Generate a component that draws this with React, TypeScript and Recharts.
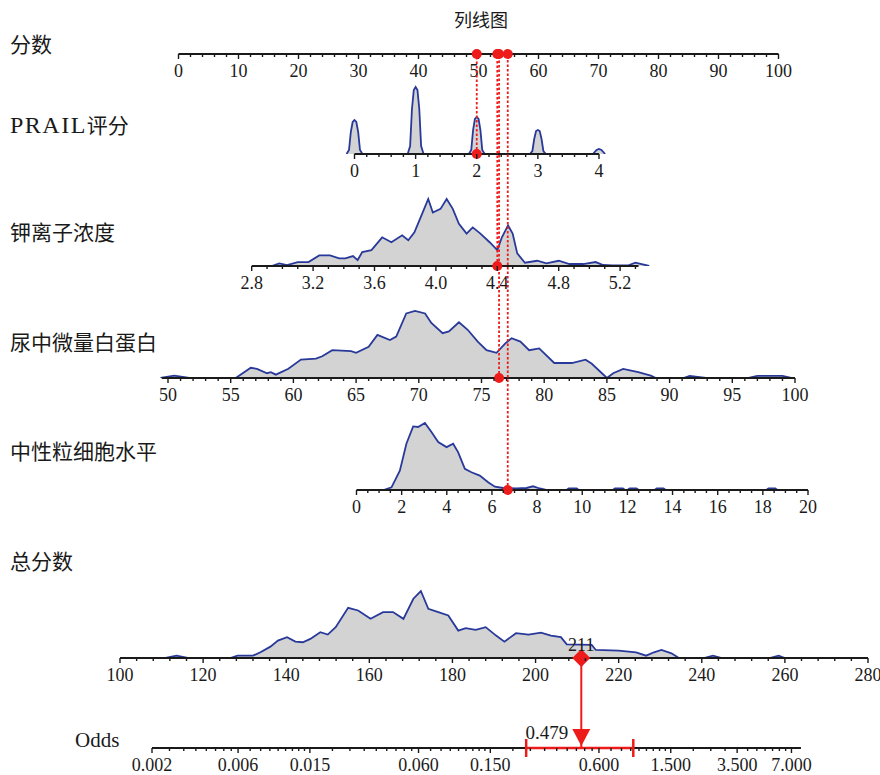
import React from 'react'
import { ComposedChart, Area, XAxis, YAxis, ReferenceLine, ReferenceDot } from 'recharts'

// 分数
const scoreMajors = [0, 10, 20, 30, 40, 50, 60, 70, 80, 90, 100]

// PRAIL评分
const prailMajors = [0, 1, 2, 3, 4]
const prailX = [
  -0.13, -0.09, -0.06, -0.03, 0, 0.03, 0.06, 0.09, 0.13,
  0.87, 0.91, 0.94, 0.97, 1, 1.03, 1.06, 1.09, 1.13,
  1.87, 1.91, 1.94, 1.97, 2, 2.03, 2.06, 2.09, 2.13,
  2.87, 2.91, 2.94, 2.97, 3, 3.03, 3.06, 3.09, 3.13,
  3.9, 3.96, 4.0, 4.04, 4.1,
]
const prailDensity = [
  0, 4, 22, 32, 34, 32, 22, 4, 0,
  0, 8, 45, 64, 67, 64, 45, 8, 0,
  0, 4, 24, 35, 37, 35, 24, 4, 0,
  0, 3, 15, 23, 24, 23, 15, 3, 0,
  0, 4, 5, 4, 0,
]
const prailObs = 2

// 钾离子浓度
const kMajors = [2.8, 3.2, 3.6, 4.0, 4.4, 4.8, 5.2]
const kX = [
  2.93, 2.98, 3.03, 3.1, 3.17, 3.24, 3.31, 3.37, 3.41, 3.46,
  3.49, 3.52, 3.58, 3.65, 3.71, 3.78, 3.82, 3.86, 3.91, 3.95,
  3.98, 4.03, 4.07, 4.11, 4.15, 4.2, 4.24, 4.29, 4.35, 4.4,
  4.43, 4.47, 4.5, 4.53, 4.58, 4.66, 4.72, 4.8, 4.87, 4.96,
  5.04, 5.09, 5.15, 5.25, 5.3, 5.39,
]
const kDensity = [
  0, 2.7, 1, 4, 4, 10.7, 10.7, 7.7, 7.7, 10,
  6, 14, 16, 29, 24, 31, 26, 34, 52.7, 67.7,
  54, 57.7, 67.7, 57.7, 42.7, 32.7, 39, 32.7, 24, 16,
  29, 41, 32.7, 12.7, 3.3, 5.3, 2.7, 5.3, 2, 2,
  4, 1, 0.5, 0.5, 3.3, 0,
]
const kObs = 4.4

// 尿中微量白蛋白
const albMajors = [50, 55, 60, 65, 70, 75, 80, 85, 90, 95, 100]
const albX = [
  49.4, 50.5, 51.7, 55.4, 56.6, 57.1, 57.9, 58.2, 58.6, 59.6,
  60.6, 61.8, 62.3, 63.1, 64.6, 65.0, 66.0, 66.7, 67.7, 68.2,
  69.0, 69.7, 70.5, 71.0, 71.9, 72.4, 73.2, 73.9, 74.7, 75.4,
  76.2, 76.9, 77.4, 78.1, 78.8, 79.6, 80.8, 82.2, 83.3, 83.8,
  85.0, 85.5, 86.3, 87.5, 88.5, 88.9, 91.1, 91.6, 92.9, 96.3,
  97.0, 99.0, 99.7,
]
const albDensity = [
  0, 2.3, 0, 0, 10, 9, 4.7, 5.7, 3.3, 9,
  18, 19, 21.3, 27.3, 26.3, 24.7, 30.7, 42.3, 37.3, 40.7,
  63.3, 65.7, 63.3, 54, 44, 45.7, 54.7, 47.3, 35.7, 27.3,
  24.7, 34, 39, 35.7, 27.3, 29, 14.7, 14.7, 18, 14,
  0, 4.7, 9, 5.7, 2.3, 0, 0, 2, 0, 0,
  2, 2, 0,
]
const albObs = 76.4

// 中性粒细胞水平
const neuMajors = [0, 2, 4, 6, 8, 10, 12, 14, 16, 18, 20]
const neuX = [
  1.2, 1.55, 1.92, 2.21, 2.51, 2.73, 3.03, 3.32, 3.62, 3.99,
  4.28, 4.5, 4.8, 5.09, 5.46, 5.83, 6.13, 6.5, 7.08, 7.53,
  7.82, 8.12, 8.4, 9.3, 9.4, 9.75, 9.85, 11.35, 11.45, 11.8,
  11.9, 12.0, 12.1, 12.4, 12.5, 13.2, 13.3, 13.6, 13.7, 18.15,
  18.25, 18.55, 18.65,
]
const neuDensity = [
  0, 2.7, 19.3, 46, 63.3, 62.7, 66.7, 57.7, 47.7, 42.7,
  46, 37.7, 21, 17.7, 14.3, 7.7, 3.3, 2, 1.5, 2,
  3.7, 1.5, 0, 0, 1.5, 1.5, 0, 0, 1.5, 1.5,
  0, 0, 1.5, 1.5, 0, 0, 1.5, 1.5, 0, 0,
  1.5, 1.5, 0,
]
const neuObs = 6.7

// 总分数
const totalMajors = [100, 120, 140, 160, 180, 200, 220, 240, 260, 280]
const totalX = [
  111, 113.6, 116.3, 126.5, 128.3, 132, 133.8, 136.2, 138, 140.2,
  142.2, 144, 145.8, 148.2, 150, 151.9, 154.9, 157.3, 160.3, 163.3,
  165.7, 168.2, 170.6, 172.4, 174.2, 176.6, 179, 181.4, 183.2, 185.6,
  188, 190.5, 192.5, 195.3, 198.3, 201.3, 203.7, 206.1, 207.5, 213.5,
  214.5, 220, 224.2, 226.6, 228.5, 230.3, 232.7, 234.5, 240.5, 242.7,
  244.8, 256.3, 258.5, 260,
]
const totalDensity = [
  0, 2.3, 0, 0, 2.3, 2.3, 5.7, 11.3, 17.3, 20.7,
  16.3, 15.7, 19, 25.7, 23.3, 30.7, 50, 47.3, 39, 45.7,
  45.7, 39, 59, 66.7, 49, 45.7, 42.3, 27.3, 29.7, 28,
  30.7, 22.3, 16.3, 24.7, 23.3, 25.3, 22.3, 20.7, 13.5, 13,
  8, 7.3, 5.7, 2.3, 5.7, 8, 4.7, 0, 0, 2.3,
  0, 0, 2.3, 0,
]
const totalObs = 211

// Odds
const oddsMajors = [0.002, 0.006, 0.015, 0.06, 0.15, 0.6, 1.5, 3.5, 7]
const oddsMinorSteps = [0.0005, 0.001, 0.005, 0.01, 0.05, 0.1, 0.5, 0.5]
const oddsObs = 0.479
const oddsCI = [0.237, 0.93]

const W = 880
const TOP_AXIS_Y = 54
const CURVE_PX = 67
const RED = '#ee1b1b'
const BLUE = '#28399a'
const GREY = '#d3d3d3'
const INK = '#1a1a1a'
const SERIF = "'Liberation Serif', 'Times New Roman', serif"
const LABEL_FONT = "'Liberation Serif', 'Noto Sans CJK SC', serif"
const TICK_SIZE = 18

function linDomain(v0: number, p0: number, v1: number, p1: number): [number, number] {
  const k = (p1 - p0) / (v1 - v0)
  return [v0 - p0 / k, v0 + (W - p0) / k]
}

function logDomain(v0: number, p0: number, v1: number, p1: number): [number, number] {
  const l0 = Math.log10(v0)
  const k = (p1 - p0) / (Math.log10(v1) - l0)
  return [10 ** (l0 - p0 / k), 10 ** (l0 + (W - p0) / k)]
}

function linearTicks(from: number, to: number, step: number) {
  const out: number[] = []
  const n = Math.round((to - from) / step)
  for (let i = 0; i <= n; i++) out.push(+(from + i * step).toFixed(6))
  return out
}

function oddsTicks() {
  const out: number[] = []
  oddsMajors.forEach((m, i) => {
    out.push(m)
    const next = oddsMajors[i + 1]
    if (next === undefined) return
    const step = oddsMinorSteps[i]
    for (let v = m + step; v < next - step / 2; v += step) out.push(+v.toFixed(6))
  })
  return out
}

function tickFor(majors: number[], decimals: number) {
  return (props: any) => {
    const { x, y, payload } = props
    const v = payload.value
    const major = majors.some((m) => Math.abs(m - v) < 1e-9 + 1e-6 * Math.abs(m))
    return (
      <g>
        <line x1={x} x2={x} y1={y} y2={y + (major ? 5 : 3)} stroke={INK} strokeWidth={1.4} />
        {major && (
          <text x={x} y={y + 23} textAnchor="middle" fontSize={TICK_SIZE} fontFamily={SERIF} fill={INK}>
            {v.toFixed(decimals)}
          </text>
        )}
      </g>
    )
  }
}

type RowProps = {
  plotTop: number
  axisY: number
  domain: [number, number]
  log?: boolean
  ticks: number[]
  majors: number[]
  decimals: number
  line: [number, number]
  grid?: number[]
  density?: number[]
  marks?: (yMax: number) => React.ReactNode
}

function Row({ plotTop, axisY, domain, log, ticks, majors, decimals, line, grid, density, marks }: RowProps) {
  const plotH = axisY - plotTop
  const data = grid && density ? grid.map((x, i) => ({ x, d: density[i] })) : majors.map((x) => ({ x }))
  const yMax = density ? (Math.max(...density) * plotH) / CURVE_PX : 1
  return (
    <div style={{ position: 'absolute', left: 0, top: plotTop - 8 }}>
      <ComposedChart width={W} height={plotH + 42} data={data} margin={{ top: 8, right: 0, bottom: 0, left: 0 }}>
        <XAxis
          dataKey="x"
          type="number"
          scale={log ? 'log' : 'linear'}
          domain={domain}
          allowDataOverflow
          ticks={ticks}
          interval={0}
          tick={tickFor(majors, decimals)}
          tickLine={false}
          axisLine={false}
          tickSize={0}
          tickMargin={0}
          height={34}
        />
        <YAxis hide domain={[0, yMax]} allowDataOverflow />
        {density && (
          <Area
            dataKey="d"
            type="linear"
            stroke={BLUE}
            strokeWidth={1.8}
            fill={GREY}
            fillOpacity={1}
            dot={false}
            activeDot={false}
            isAnimationActive={false}
          />
        )}
        <ReferenceLine
          segment={[{ x: line[0], y: 0 }, { x: line[1], y: 0 }]}
          stroke={INK}
          strokeWidth={2.2}
          ifOverflow="visible"
        />
        {marks && marks(yMax)}
      </ComposedChart>
    </div>
  )
}

function observation(value: number) {
  return (yMax: number) => [
    <ReferenceLine key="l" x={value} stroke={RED} strokeWidth={1.8} strokeDasharray="2.5 2" ifOverflow="visible" />,
    <ReferenceDot key="t" x={value} y={yMax} r={5} fill={RED} stroke="none" ifOverflow="visible" />,
    <ReferenceDot key="b" x={value} y={0} r={5} fill={RED} stroke="none" ifOverflow="visible" />,
  ]
}

const Diamond = (p: any) => (
  <g>
    <polygon
      points={`${p.cx},${p.cy - 9} ${p.cx + 9},${p.cy} ${p.cx},${p.cy + 9} ${p.cx - 9},${p.cy}`}
      fill={RED}
    />
    <text x={p.cx} y={p.cy - 7} textAnchor="middle" fontSize={TICK_SIZE} fontFamily={SERIF} fill={INK}>
      {String(totalObs)}
    </text>
  </g>
)

const Arrow = (p: any) => (
  <g>
    <polygon points={`${p.cx - 9},${p.cy - 19} ${p.cx + 9},${p.cy - 19} ${p.cx},${p.cy - 2}`} fill={RED} />
    <text x={p.cx - 13} y={p.cy - 9} textAnchor="end" fontSize={19} fontFamily={SERIF} fill={INK}>
      {oddsObs.toFixed(3)}
    </text>
  </g>
)

const Cap = (p: any) => <line x1={p.cx} x2={p.cx} y1={p.cy - 9} y2={p.cy + 9} stroke={RED} strokeWidth={2.5} />

const labels = [
  { text: '分数', left: 10, y: 45 },
  { text: '钾离子浓度', left: 10, y: 233 },
  { text: '尿中微量白蛋白', left: 10, y: 343 },
  { text: '中性粒细胞水平', left: 10, y: 452 },
  { text: '总分数', left: 10, y: 562 },
  { text: 'Odds', left: 75, y: 740 },
]

const labelStyle = (left: number, y: number): React.CSSProperties => ({
  position: 'absolute',
  left,
  top: y,
  transform: 'translateY(-50%)',
  fontFamily: LABEL_FONT,
  fontSize: 21,
  lineHeight: '30px',
  color: INK,
  whiteSpace: 'nowrap',
})

export default function App() {
  return (
    <div style={{ position: 'absolute', left: 0, top: 0, width: W, height: 775, background: '#fff', overflow: 'hidden' }}>
      <div
        style={{
          position: 'absolute',
          left: 481,
          top: 19,
          transform: 'translate(-50%, -50%)',
          fontFamily: LABEL_FONT,
          fontSize: 18,
          color: INK,
          whiteSpace: 'nowrap',
        }}
      >
        列线图
      </div>
      {labels.map((l) => (
        <div key={l.text} style={labelStyle(l.left, l.y)}>
          {l.text}
        </div>
      ))}
      <div style={labelStyle(10, 125)}>
        <span style={{ fontSize: 24, letterSpacing: 1.5 }}>PRAIL</span>评分
      </div>

      <Row
        plotTop={30}
        axisY={TOP_AXIS_Y}
        domain={linDomain(0, 178.5, 100, 778.5)}
        ticks={linearTicks(0, 100, 2)}
        majors={scoreMajors}
        decimals={0}
        line={[0, 100]}
      />
      <Row
        plotTop={TOP_AXIS_Y}
        axisY={154}
        domain={linDomain(0, 354.5, 4, 599)}
        ticks={linearTicks(0, 4, 0.2)}
        majors={prailMajors}
        decimals={0}
        line={[0, 4]}
        grid={prailX}
        density={prailDensity}
        marks={observation(prailObs)}
      />
      <Row
        plotTop={TOP_AXIS_Y}
        axisY={266}
        domain={linDomain(2.8, 251.7, 4.4, 497.3)}
        ticks={linearTicks(2.8, 5.3, 0.1)}
        majors={kMajors}
        decimals={1}
        line={[2.8, 5.32]}
        grid={kX}
        density={kDensity}
        marks={observation(kObs)}
      />
      <Row
        plotTop={TOP_AXIS_Y}
        axisY={378}
        domain={linDomain(50, 168, 100, 795)}
        ticks={linearTicks(50, 100, 1)}
        majors={albMajors}
        decimals={0}
        line={[49.5, 100]}
        grid={albX}
        density={albDensity}
        marks={observation(albObs)}
      />
      <Row
        plotTop={TOP_AXIS_Y}
        axisY={490}
        domain={linDomain(0, 356.5, 20, 808)}
        ticks={linearTicks(0, 20, 0.5)}
        majors={neuMajors}
        decimals={0}
        line={[0, 20]}
        grid={neuX}
        density={neuDensity}
        marks={observation(neuObs)}
      />
      <Row
        plotTop={568}
        axisY={658}
        domain={linDomain(100, 120, 280, 868)}
        ticks={linearTicks(100, 280, 4)}
        majors={totalMajors}
        decimals={0}
        line={[100, 280]}
        grid={totalX}
        density={totalDensity}
        marks={() => <ReferenceDot x={totalObs} y={0} r={9} shape={Diamond} ifOverflow="visible" />}
      />
      <Row
        plotTop={658}
        axisY={748}
        log
        domain={logDomain(0.002, 152, oddsObs, 581.3)}
        ticks={oddsTicks()}
        majors={oddsMajors}
        decimals={3}
        line={[0.002, 7.9]}
        marks={() => [
          <ReferenceLine key="v" x={oddsObs} stroke={RED} strokeWidth={2} ifOverflow="visible" />,
          <ReferenceLine
            key="ci"
            segment={[{ x: oddsCI[0], y: 0 }, { x: oddsCI[1], y: 0 }]}
            stroke={RED}
            strokeWidth={2.5}
            ifOverflow="visible"
          />,
          <ReferenceDot key="c0" x={oddsCI[0]} y={0} r={9} shape={Cap} ifOverflow="visible" />,
          <ReferenceDot key="c1" x={oddsCI[1]} y={0} r={9} shape={Cap} ifOverflow="visible" />,
          <ReferenceDot key="a" x={oddsObs} y={0} r={9} shape={Arrow} ifOverflow="visible" />,
        ]}
      />
    </div>
  )
}
